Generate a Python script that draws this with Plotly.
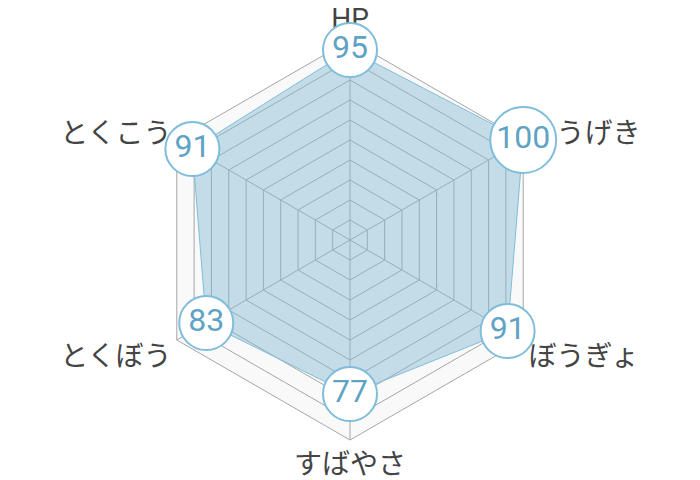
"""Radar chart of base stats (HP / こうげき / ぼうぎょ / すばやさ / とくぼう / とくこう)."""

import plotly.graph_objects as go

STAT_NAMES = ["HP", "こうげき", "ぼうぎょ", "すばやさ", "とくぼう", "とくこう"]
STAT_VALUES = [95, 100, 91, 77, 83, 91]
RADIAL_MAX = 100
RADIAL_STEP = 10

FONT = "Roboto, 'Noto Sans CJK JP', sans-serif"
LINE_COLOUR = "#7fbddb"
TEXT_COLOUR = "#5fa3c4"
GRID_COLOUR = "#a6a6a6"

# bubble grows a little for three-digit values
bubble_sizes = [54 if len(str(v)) < 3 else 66 for v in STAT_VALUES]

fig = go.Figure()

# closed polygon with the filled area
fig.add_trace(
    go.Scatterpolar(
        r=STAT_VALUES + STAT_VALUES[:1],
        theta=STAT_NAMES + STAT_NAMES[:1],
        mode="lines",
        fill="toself",
        fillcolor="rgba(128,183,210,0.45)",
        line=dict(color=LINE_COLOUR, width=1),
        hoverinfo="skip",
        showlegend=False,
    )
)

# value bubbles on each vertex
fig.add_trace(
    go.Scatterpolar(
        r=STAT_VALUES,
        theta=STAT_NAMES,
        mode="markers+text",
        text=[str(v) for v in STAT_VALUES],
        textposition="middle center",
        textfont=dict(family=FONT, size=32, color=TEXT_COLOUR),
        marker=dict(
            size=bubble_sizes,
            color="white",
            line=dict(color=LINE_COLOUR, width=2),
            opacity=1,
        ),
        cliponaxis=False,
        showlegend=False,
    )
)

# the page body adds an 8px offset, so the figure is a bit smaller and shifted
fig.update_layout(
    width=692,
    height=472,
    margin=dict(l=142, r=150, t=32, b=40),
    paper_bgcolor="white",
    font=dict(family=FONT),
    polar=dict(
        gridshape="linear",
        bgcolor="#f9f9f9",
        radialaxis=dict(
            range=[0, RADIAL_MAX],
            dtick=RADIAL_STEP,
            showticklabels=False,
            ticks="",
            showline=False,
            gridcolor=GRID_COLOUR,
            gridwidth=1,
            layer="below traces",
        ),
        angularaxis=dict(
            rotation=90,
            direction="clockwise",
            ticks="",
            tickfont=dict(family=FONT, size=28, color="#444444"),
            gridcolor=GRID_COLOUR,
            linecolor=GRID_COLOUR,
            linewidth=1,
            layer="below traces",
        ),
    ),
)

fig.write_html("out.html")
